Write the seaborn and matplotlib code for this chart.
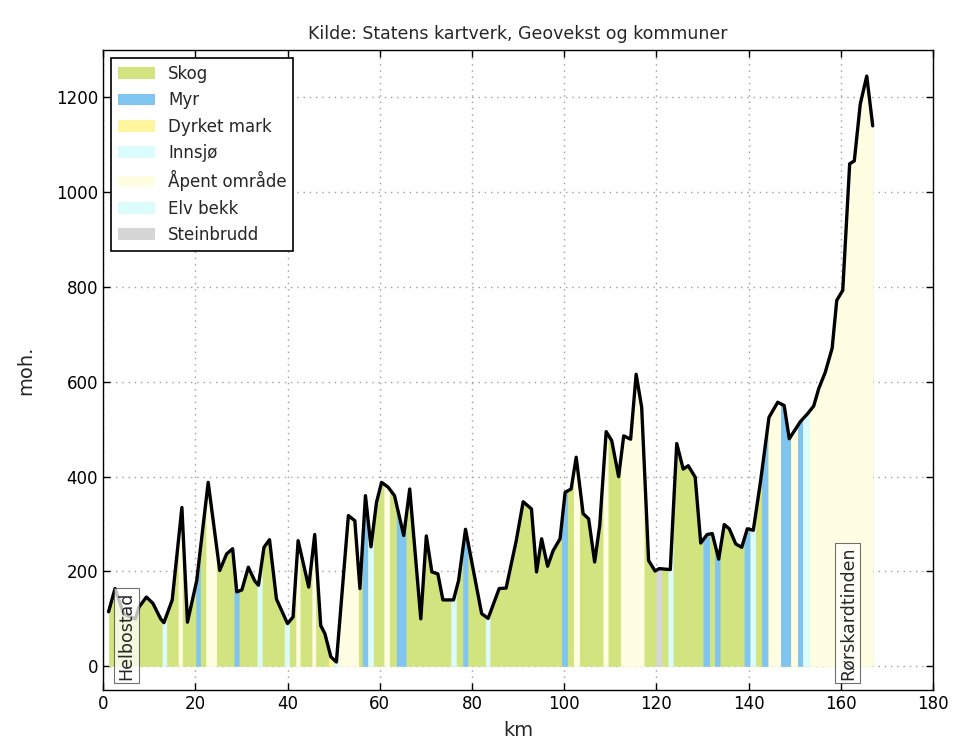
import numpy as np
import pandas as pd
import seaborn as sns
import matplotlib.pyplot as plt
from matplotlib.patches import Patch

# profile: distance (km) and height (moh.)
km = [1.2, 2.6, 4.5, 7.0, 7.8, 9.4, 10.8, 12.5, 13.2, 15.0,
      17.1, 18.3, 20.3, 22.8, 25.3, 26.8, 28.1, 29.0, 30.1, 31.5,
      32.9, 33.7, 34.9, 36.1, 37.6, 40.0, 41.2, 42.3, 44.6, 45.9,
      47.2, 48.1, 49.4, 50.6, 53.2, 54.6, 55.7, 56.9, 58.1, 59.3,
      60.4, 61.8, 63.2, 65.2, 66.5, 68.9, 70.1, 71.3, 72.6, 73.7,
      76.0, 77.1, 78.6, 82.1, 83.5, 85.9, 87.4, 89.6, 91.1, 92.9,
      94.0, 95.1, 96.4, 97.6, 99.1, 100.2, 101.5, 102.6, 104.1, 105.3,
      106.6, 107.7, 109.1, 110.3, 111.8, 112.9, 114.4, 115.6, 116.8, 118.3,
      119.7, 120.6, 123.0, 124.4, 125.8, 126.9, 128.4, 129.6, 131.0, 132.1,
      133.5, 134.7, 135.8, 137.2, 138.5, 139.7, 141.0, 142.6, 144.4, 146.3,
      147.7, 148.8, 151.2, 152.7, 154.1, 155.2, 156.6, 158.1, 159.1, 160.4,
      161.9, 162.9, 164.2, 165.6, 166.9]
hoyde = [115, 164, 110, 100, 125, 146, 133, 100, 92, 140,
         335, 93, 180, 388, 202, 237, 248, 157, 161, 209,
         180, 171, 251, 267, 142, 90, 104, 265, 167, 278,
         86, 69, 20, 9, 318, 307, 164, 360, 252, 346,
         388, 378, 360, 276, 374, 100, 275, 199, 195, 140,
         140, 181, 289, 111, 101, 164, 165, 265, 347, 332,
         199, 269, 211, 244, 269, 367, 374, 441, 322, 311,
         220, 297, 495, 476, 400, 486, 479, 616, 546, 223,
         201, 206, 204, 470, 416, 423, 399, 260, 278, 280,
         226, 299, 290, 258, 251, 290, 287, 392, 525, 557,
         550, 480, 516, 532, 549, 586, 620, 671, 772, 793,
         1060, 1066, 1186, 1245, 1140]

# land cover stretches that are not forest (Skog is the base)
seg_start = [12.8, 16.3, 20.1, 22.3, 28.4, 33.4, 39.3, 41.8, 45.3, 48.9,
             49.9, 51.0, 56.2, 57.4, 60.9, 63.6, 75.4, 78.0, 82.9, 99.4,
             102.0, 108.4, 112.2, 119.9, 122.5, 130.1, 132.6, 139.0, 140.3, 142.8,
             144.2, 146.9, 149.1, 150.6, 151.7, 153.2]
seg_end = [13.8, 17.2, 21.1, 24.6, 29.5, 34.5, 40.4, 42.7, 46.1, 49.9,
           51.0, 55.4, 57.4, 58.6, 62.1, 65.7, 76.6, 79.1, 83.9, 100.7,
           103.3, 109.5, 117.3, 121.1, 123.6, 131.5, 133.8, 140.3, 141.5, 144.2,
           146.9, 149.1, 150.6, 151.7, 153.2, 166.9]
seg_type = ['Elv bekk', 'Åpent område', 'Myr', 'Åpent område', 'Myr',
            'Elv bekk', 'Elv bekk', 'Åpent område', 'Åpent område', 'Dyrket mark',
            'Innsjø', 'Åpent område', 'Myr', 'Elv bekk', 'Åpent område',
            'Myr', 'Elv bekk', 'Myr', 'Elv bekk', 'Myr',
            'Åpent område', 'Åpent område', 'Åpent område', 'Steinbrudd', 'Innsjø',
            'Myr', 'Myr', 'Myr', 'Elv bekk', 'Myr',
            'Åpent område', 'Myr', 'Åpent område', 'Myr', 'Elv bekk',
            'Åpent område']

kategorier = ['Skog', 'Myr', 'Dyrket mark', 'Innsjø', 'Åpent område', 'Elv bekk', 'Steinbrudd']
farger = ['#d2e47f', '#80c5f0', '#fff59c', '#dafcfc', '#fffee3', '#dcfcfc', '#d6d6d6']
fargekart = dict(zip(kategorier, farger))

steder = ['Helbostad', 'Rørskardtinden']
sted_km = [5.0, 161.5]

df = pd.DataFrame({'km': km, 'moh': hoyde})

sns.set_style('ticks', {'xtick.direction': 'in', 'ytick.direction': 'in'})
plt.rcParams['font.family'] = ['DejaVu Sans']
plt.rcParams['xtick.top'] = True
plt.rcParams['ytick.right'] = True

fig = plt.figure(figsize=(9.63, 7.42), dpi=100)
ax = fig.add_axes([0.107, 0.0701, 0.862, 0.8625])

x = df['km'].to_numpy()
y = df['moh'].to_numpy()

# forest as base, the other classes on top
ax.fill_between(x, 0, y, color=fargekart['Skog'], lw=0, zorder=1)
for a, b, t in zip(seg_start, seg_end, seg_type):
    xs = np.concatenate([[a], x[(x > a) & (x < b)], [b]])
    ys = np.interp(xs, x, y)
    ax.fill_between(xs, 0, ys, color=fargekart[t], lw=0, zorder=2)

sns.lineplot(data=df, x='km', y='moh', color='black', lw=2.4, sort=False, ax=ax, zorder=3)

for navn, pos in zip(steder, sted_km):
    ax.text(pos, -28, navn, rotation=90, ha='center', va='bottom', fontsize=12.5,
            bbox=dict(facecolor='white', alpha=0.75, edgecolor='0.25', lw=0.8, pad=2.5),
            zorder=4)

ax.set_xlim(0, 180)
ax.set_ylim(-50, 1300)
ax.set_xticks(range(0, 181, 20))
ax.set_yticks(range(0, 1201, 200))
ax.grid(True, ls=(0, (1, 3.5)), color='0.62', lw=1)
ax.tick_params(labelsize=12, length=5, width=1, colors='black')
for s in ax.spines.values():
    s.set_color('black')
    s.set_linewidth(1)

ax.set_title('Kilde: Statens kartverk, Geovekst og kommuner', fontsize=12.5, pad=8)
ax.set_xlabel('km', fontsize=14, labelpad=6)
ax.set_ylabel('moh.', fontsize=14, labelpad=15)

handles = [Patch(facecolor=fargekart[k], edgecolor='none', label=k) for k in kategorier]
leg = ax.legend(handles=handles, loc='upper left', fontsize=12, fancybox=False,
                framealpha=1, edgecolor='black', handlelength=2.2, labelspacing=0.5,
                borderaxespad=0.5)
leg.get_frame().set_linewidth(1.2)

fig.savefig('out.png', dpi=100, facecolor='white')
